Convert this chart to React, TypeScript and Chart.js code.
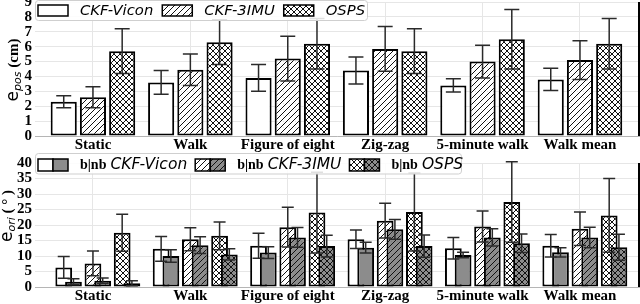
import React, { useEffect, useRef } from 'react';
import { Chart, registerables } from 'chart.js';

Chart.register(...registerables);

// ---------- data ----------
const CATEGORIES = ['Static', 'Walk', 'Figure of eight', 'Zig-zag', '5-minute walk', 'Walk mean'];
const SERIES = ['CKF-Vicon', 'CKF-3IMU', 'OSPS'];

// position error (cm)
const POS_VICON = [2.3, 3.6, 3.9, 4.4, 3.4, 3.8];
const POS_VICON_ERR = [0.4, 0.8, 0.9, 0.9, 0.45, 0.75];
const POS_3IMU = [2.6, 4.45, 5.2, 5.85, 5.0, 5.1];
const POS_3IMU_ERR = [0.7, 1.05, 1.5, 1.5, 1.1, 1.3];
const POS_OSPS = [5.7, 6.3, 6.2, 5.7, 6.5, 6.2];
const POS_OSPS_ERR = [1.5, 1.5, 1.7, 1.5, 2.0, 1.7];

// orientation error (deg), b / nb
const ORI_VICON_B = [6.3, 12.3, 13.3, 15.4, 12.5, 13.3];
const ORI_VICON_B_ERR = [3.5, 4, 4, 3, 3.5, 3.6];
const ORI_VICON_NB = [1.7, 10.0, 11.1, 12.7, 10.3, 11.2];
const ORI_VICON_NB_ERR = [1, 2, 1.9, 1.7, 0.9, 1.5];
const ORI_3IMU_B = [7.6, 15.4, 19.3, 21.4, 19.5, 18.8];
const ORI_3IMU_B_ERR = [4, 3.7, 6.4, 5.6, 5, 5.4];
const ORI_3IMU_NB = [2.0, 13.5, 16.0, 18.6, 16.0, 16.0];
const ORI_3IMU_NB_ERR = [0.9, 2.7, 3.2, 3.2, 2.8, 3.3];
const ORI_OSPS_B = [17.5, 16.5, 24.0, 24.2, 27.4, 23.1];
const ORI_OSPS_B_ERR = [6, 4.5, 13, 12.6, 13, 11.9];
const ORI_OSPS_NB = [1.2, 10.5, 13.2, 13.2, 14.1, 12.8];
const ORI_OSPS_NB_ERR = [0.8, 1.8, 3.5, 3.6, 3, 4.2];

const POS_TICKS = [0, 1, 2, 3, 4, 5, 6, 7, 8, 9];
const ORI_TICKS = [0, 5, 10, 15, 20, 25, 30, 35, 40];

// ---------- layout / style ----------
const X_MIN = -0.595;
const X_MAX = 5.606;
const SERIES_SHIFT = [-0.3, 0, 0.3]; // group slot of each series, in category units
const NB_SHIFT = 0.1; // nb bar drawn slightly right of its b bar
const SERIF = '"Liberation Serif", "Times New Roman", serif';
const SANS = '"DejaVu Sans", sans-serif';
const GRID = '#e6e6e6';
const GREY = '#8c8c8c';
const TICK_FONT = `bold 15px ${SERIF}`;

type Kind = 'none' | 'slash' | 'cross';

function makePattern(bg: string, kind: Kind): CanvasPattern | string {
  if (kind === 'none') return bg;
  const s = 6;
  const c = document.createElement('canvas');
  c.width = s;
  c.height = s;
  const g = c.getContext('2d')!;
  g.fillStyle = bg;
  g.fillRect(0, 0, s, s);
  g.fillStyle = 'rgba(0,0,0,0.12)';
  g.fillRect(1, 1, 1, 1);
  g.strokeStyle = '#111';
  g.lineWidth = 1;
  const line = (x1: number, y1: number, x2: number, y2: number) => {
    g.beginPath();
    g.moveTo(x1, y1);
    g.lineTo(x2, y2);
    g.stroke();
  };
  line(-1, s + 1, s + 1, -1);
  line(-1, 1, 1, -1);
  line(s - 1, s + 1, s + 1, s - 1);
  if (kind === 'cross') {
    line(-1, -1, s + 1, s + 1);
    line(s - 1, -1, s + 1, 1);
    line(-1, s - 1, 1, s + 1);
  }
  return g.createPattern(c, 'repeat')!;
}

function xScale(shift: number, display: boolean) {
  return {
    type: 'linear',
    min: X_MIN - shift,
    max: X_MAX - shift,
    offset: false,
    display,
    afterBuildTicks: (s: any) => {
      s.ticks = CATEGORIES.map((_, i) => ({ value: i }));
    },
    afterFit: (s: any) => {
      if (display) s.height = 17;
      s.paddingLeft = 0;
      s.paddingRight = 0;
    },
    ticks: {
      autoSkip: false,
      maxRotation: 0,
      minRotation: 0,
      padding: 0,
      color: '#000',
      font: { family: SERIF, size: 15, weight: 'bold' },
      callback: (v: any) => CATEGORIES[v] ?? '',
    },
    grid: { offset: false, color: GRID, drawTicks: false, display },
    border: { display, color: '#b5b5b5' },
  };
}

function yScale(tickValues: number[], libLabels: boolean) {
  return {
    min: tickValues[0],
    max: tickValues[tickValues.length - 1],
    stacked: false,
    afterBuildTicks: (s: any) => {
      s.ticks = tickValues.map((v) => ({ value: v }));
    },
    afterFit: (s: any) => {
      s.width = 35;
      s.paddingTop = 0;
      s.paddingBottom = 0;
    },
    ticks: {
      display: libLabels,
      autoSkip: false,
      padding: 3,
      color: '#000',
      font: { family: SERIF, size: 15, weight: 'bold', lineHeight: 1 },
    },
    grid: { color: GRID, drawTicks: false },
    border: { display: false },
  };
}

function drawYTickLabels(chart: any, tickValues: number[]) {
  const ctx = chart.ctx;
  const ys = chart.scales.y;
  ctx.save();
  ctx.fillStyle = '#000';
  ctx.font = TICK_FONT;
  ctx.textAlign = 'right';
  ctx.textBaseline = 'middle';
  tickValues.forEach((v) => {
    ctx.fillText(String(v), chart.chartArea.left - 3, ys.getPixelForValue(v));
  });
  ctx.restore();
}

function drawErrorBars(chart: any, cap: number) {
  const ctx = chart.ctx;
  ctx.save();
  ctx.strokeStyle = '#2a2a2a';
  ctx.lineWidth = 1.5;
  chart.data.datasets.forEach((ds: any, di: number) => {
    const meta = chart.getDatasetMeta(di);
    const ys = chart.scales[meta.yAxisID];
    meta.data.forEach((el: any, i: number) => {
      const v = ds.data[i].y;
      const e = ds.errors[i];
      const x = el.x;
      const yt = ys.getPixelForValue(v + e);
      const yb = ys.getPixelForValue(Math.max(0, v - e));
      ctx.beginPath();
      ctx.moveTo(x, yt);
      ctx.lineTo(x, yb);
      ctx.moveTo(x - cap / 2, yt);
      ctx.lineTo(x + cap / 2, yt);
      ctx.moveTo(x - cap / 2, yb);
      ctx.lineTo(x + cap / 2, yb);
      ctx.stroke();
    });
  });
  ctx.restore();
}

function drawRightSpine(chart: any) {
  const { ctx, chartArea } = chart;
  ctx.save();
  ctx.strokeStyle = '#000';
  ctx.lineWidth = 2;
  ctx.beginPath();
  ctx.moveTo(chartArea.right, chartArea.top);
  ctx.lineTo(chartArea.right, chartArea.bottom);
  ctx.stroke();
  ctx.restore();
}

function legendBox(ctx: CanvasRenderingContext2D, x: number, y: number, w: number, h: number) {
  ctx.save();
  ctx.beginPath();
  const r = 3;
  ctx.moveTo(x + r, y);
  ctx.lineTo(x + w - r, y);
  ctx.arcTo(x + w, y, x + w, y + r, r);
  ctx.lineTo(x + w, y + h - r);
  ctx.arcTo(x + w, y + h, x + w - r, y + h, r);
  ctx.lineTo(x + r, y + h);
  ctx.arcTo(x, y + h, x, y + h - r, r);
  ctx.lineTo(x, y + r);
  ctx.arcTo(x, y, x + r, y, r);
  ctx.closePath();
  ctx.fillStyle = 'rgba(255,255,255,0.85)';
  ctx.fill();
  ctx.strokeStyle = '#cfcfcf';
  ctx.lineWidth = 1;
  ctx.stroke();
  ctx.restore();
}

function swatch(ctx: CanvasRenderingContext2D, fill: any, x: number, y: number, w: number, h: number) {
  ctx.fillStyle = fill;
  ctx.fillRect(x, y, w, h);
  ctx.strokeStyle = '#000';
  ctx.lineWidth = 1.5;
  ctx.strokeRect(x, y, w, h);
}

function drawYTitle(chart: any, cx: number, cy: number, sub: string, unit: string) {
  const ctx = chart.ctx;
  ctx.save();
  ctx.fillStyle = '#000';
  ctx.textBaseline = 'alphabetic';
  const parts = [
    { t: 'e', font: `17px ${SANS}`, dy: 0 },
    { t: sub, font: `italic 11px ${SANS}`, dy: 3 },
    { t: ' ' + unit, font: `bold 15px ${SERIF}`, dy: 0 },
  ];
  let total = 0;
  const widths = parts.map((p) => {
    ctx.font = p.font;
    const w = ctx.measureText(p.t).width;
    total += w;
    return w;
  });
  ctx.translate(cx, cy);
  ctx.rotate(-Math.PI / 2);
  let x = -total / 2;
  parts.forEach((p, i) => {
    ctx.font = p.font;
    ctx.fillText(p.t, x, p.dy);
    x += widths[i];
  });
  ctx.restore();
}

function buildTop(canvas: HTMLCanvasElement) {
  const fills = [makePattern('#ffffff', 'none'), makePattern('#ffffff', 'slash'), makePattern('#ffffff', 'cross')];
  const values = [POS_VICON, POS_3IMU, POS_OSPS];
  const errs = [POS_VICON_ERR, POS_3IMU_ERR, POS_OSPS_ERR];
  const axisIds = ['xs0', 'x', 'xs2'];
  const datasets = SERIES.map((name, k) => ({
    label: name,
    data: values[k].map((y, i) => ({ x: i, y })),
    errors: errs[k],
    xAxisID: axisIds[k],
    grouped: false,
    backgroundColor: fills[k],
    borderColor: '#000',
    borderWidth: 2,
    borderSkipped: false,
    categoryPercentage: 1,
    barPercentage: 0.268,
  }));
  const plugin = {
    id: 'decorTop',
    afterDatasetsDraw(chart: any) {
      drawErrorBars(chart, 15);
    },
    afterDraw(chart: any) {
      const ctx = chart.ctx as CanvasRenderingContext2D;
      drawRightSpine(chart);
      legendBox(ctx, 35.5, 0.5, 332, 20);
      ctx.save();
      ctx.font = `italic 14.8px ${SANS}`;
      ctx.textBaseline = 'middle';
      let x = 38;
      SERIES.forEach((name, k) => {
        swatch(ctx, fills[k], x, 5, 30, 11);
        x += 42;
        ctx.fillStyle = '#000';
        ctx.fillText(name, x, 11);
        x += ctx.measureText(name).width + 9;
      });
      ctx.restore();
      drawYTitle(chart, 18, 70, 'pos', '(cm)');
    },
  };
  return new Chart(canvas, {
    type: 'bar',
    data: { datasets } as any,
    options: {
      responsive: false,
      animation: false,
      events: [],
      layout: { padding: { top: 2, right: 1, bottom: 0, left: 0 } },
      plugins: { legend: { display: false }, tooltip: { enabled: false } },
      scales: {
        x: xScale(SERIES_SHIFT[1], true),
        xs0: xScale(SERIES_SHIFT[0], false),
        xs2: xScale(SERIES_SHIFT[2], false),
        y: yScale(POS_TICKS, true),
      } as any,
    },
    plugins: [plugin],
  });
}

function buildBottom(canvas: HTMLCanvasElement) {
  const bFills = [makePattern('#ffffff', 'none'), makePattern('#ffffff', 'slash'), makePattern('#ffffff', 'cross')];
  const nbFills = [makePattern(GREY, 'none'), makePattern(GREY, 'slash'), makePattern(GREY, 'cross')];
  const bVals = [ORI_VICON_B, ORI_3IMU_B, ORI_OSPS_B];
  const bErrs = [ORI_VICON_B_ERR, ORI_3IMU_B_ERR, ORI_OSPS_B_ERR];
  const nbVals = [ORI_VICON_NB, ORI_3IMU_NB, ORI_OSPS_NB];
  const nbErrs = [ORI_VICON_NB_ERR, ORI_3IMU_NB_ERR, ORI_OSPS_NB_ERR];
  const bAxis = ['xb0', 'x', 'xb2'];
  const nbAxis = ['xn0', 'xn1', 'xn2'];
  const common = {
    borderColor: '#000',
    borderWidth: 2,
    borderSkipped: false,
    grouped: false,
    categoryPercentage: 1,
    barPercentage: 0.172,
  };
  const datasets: any[] = [];
  SERIES.forEach((name, k) => {
    datasets.push({
      ...common,
      label: 'b ' + name,
      data: bVals[k].map((y, i) => ({ x: i, y })),
      errors: bErrs[k],
      xAxisID: bAxis[k],
      order: 1,
      backgroundColor: bFills[k],
    });
    datasets.push({
      ...common,
      label: 'nb ' + name,
      data: nbVals[k].map((y, i) => ({ x: i, y })),
      errors: nbErrs[k],
      xAxisID: nbAxis[k],
      order: 0,
      backgroundColor: nbFills[k],
    });
  });
  const plugin = {
    id: 'decorBottom',
    afterDatasetsDraw(chart: any) {
      drawErrorBars(chart, 12);
    },
    afterDraw(chart: any) {
      const ctx = chart.ctx as CanvasRenderingContext2D;
      drawRightSpine(chart);
      drawYTickLabels(chart, ORI_TICKS);
      legendBox(ctx, 35.5, 3.5, 426, 20.5);
      ctx.save();
      ctx.textBaseline = 'middle';
      let x = 38;
      SERIES.forEach((name, k) => {
        swatch(ctx, bFills[k], x, 9, 15, 12);
        swatch(ctx, nbFills[k], x + 15, 9, 15, 12);
        x += 42;
        ctx.fillStyle = '#000';
        ctx.font = `bold 14px ${SERIF}`;
        ctx.fillText('b|nb', x, 15);
        x += ctx.measureText('b|nb').width + 4;
        ctx.font = `italic 15.5px ${SANS}`;
        ctx.fillText(name, x, 15);
        x += ctx.measureText(name).width + 8;
      });
      ctx.restore();
      drawYTitle(chart, 12, 66, 'ori', '( ° )');
    },
  };
  return new Chart(canvas, {
    type: 'bar',
    data: { datasets } as any,
    options: {
      responsive: false,
      animation: false,
      events: [],
      layout: { padding: { top: 13, right: 1, bottom: 0, left: 0 } },
      plugins: { legend: { display: false }, tooltip: { enabled: false } },
      scales: {
        x: xScale(SERIES_SHIFT[1], true),
        xb0: xScale(SERIES_SHIFT[0], false),
        xb2: xScale(SERIES_SHIFT[2], false),
        xn0: xScale(SERIES_SHIFT[0] + NB_SHIFT, false),
        xn1: xScale(SERIES_SHIFT[1] + NB_SHIFT, false),
        xn2: xScale(SERIES_SHIFT[2] + NB_SHIFT, false),
        y: yScale(ORI_TICKS, false),
      } as any,
    },
    plugins: [plugin],
  });
}

export default function App() {
  const topRef = useRef<HTMLCanvasElement>(null);
  const botRef = useRef<HTMLCanvasElement>(null);
  useEffect(() => {
    document.body.style.margin = '0';
    const c1 = buildTop(topRef.current!);
    const c2 = buildBottom(botRef.current!);
    return () => {
      c1.destroy();
      c2.destroy();
    };
  }, []);
  return (
    <div style={{ position: 'relative', width: 640, height: 304, overflow: 'hidden', background: '#fff' }}>
      <canvas
        ref={topRef}
        width={640}
        height={153}
        style={{ position: 'absolute', left: 0, top: 0, width: 640, height: 153 }}
      />
      <canvas
        ref={botRef}
        width={640}
        height={154}
        style={{ position: 'absolute', left: 0, top: 150, width: 640, height: 154 }}
      />
    </div>
  );
}
